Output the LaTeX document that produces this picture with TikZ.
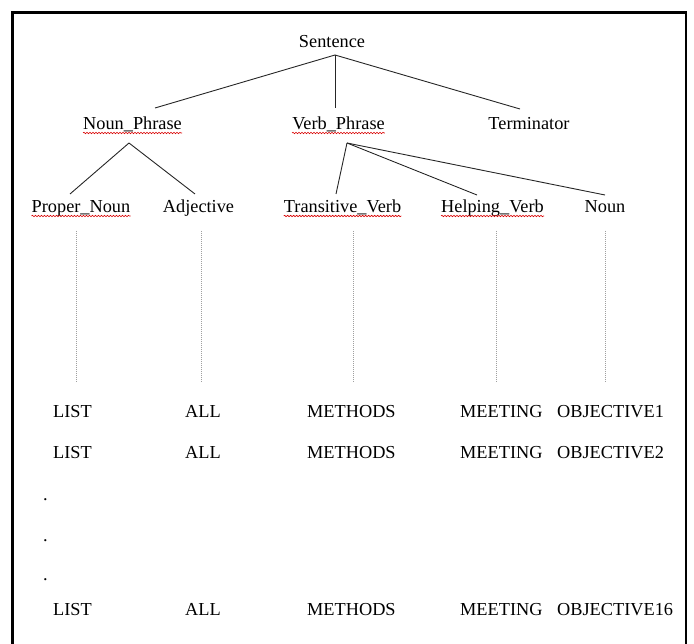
\documentclass[tikz,border=0pt]{standalone}
\usepackage{fontspec}
\setmainfont{Liberation Serif}
\usetikzlibrary{decorations.pathmorphing}
\begin{document}
\begin{tikzpicture}[x=1pt,y=-1pt,
  lbl/.style={inner sep=0pt, anchor=base, font=\fontsize{18.3}{22}\selectfont},
  word/.style={inner sep=0pt, anchor=base west, font=\fontsize{18.3}{22}\selectfont},
  edge/.style={line width=0.9pt, black!85},
  leader/.style={gray!75, line width=1pt, dash pattern=on 1pt off 1pt},
  squiggle/.style={red!85!black, line width=0.6pt, decorate,
    decoration={snake, amplitude=0.7pt, segment length=3pt}},
  frame/.style={line width=2.2pt}]
\useasboundingbox (0,0) rectangle (694,644);
\draw[frame] (12.5,644) -- (12.5,12.5) -- (686,12.5) -- (686,644);

% grammar tree
\node[lbl] (s)   at (332,48)    {Sentence};
\node[lbl] (np)  at (132.5,130) {Noun\_Phrase};
\node[lbl] (vp)  at (338.5,130) {Verb\_Phrase};
\node[lbl] (tm)  at (529,130)   {Terminator};
\node[lbl] (pn)  at (81,213)    {Proper\_Noun};
\node[lbl] (adj) at (198.5,213) {Adjective};
\node[lbl] (tv)  at (342.5,213) {Transitive\_Verb};
\node[lbl] (hv)  at (492.5,213) {Helping\_Verb};
\node[lbl] (nn)  at (605,213)   {Noun};

% spelling marks under the compound names
\foreach \n in {np,vp,pn,tv,hv}
  \draw[squiggle] ([yshift=-3pt]\n.base west) -- ([yshift=-3pt]\n.base east);

% branches
\draw[edge] ([xshift=3pt,yshift=-7pt]s.base) -- ([xshift=22.5pt,yshift=22pt]np.base);
\draw[edge] ([xshift=3pt,yshift=-7pt]s.base) -- ([xshift=-3.5pt,yshift=22pt]vp.base);
\draw[edge] ([xshift=3pt,yshift=-7pt]s.base) -- ([xshift=-9pt,yshift=21pt]tm.base);
\draw[edge] ([xshift=-3.5pt,yshift=-13pt]np.base) -- ([xshift=-11pt,yshift=19pt]pn.base);
\draw[edge] ([xshift=-3.5pt,yshift=-13pt]np.base) -- ([xshift=-3.5pt,yshift=19pt]adj.base);
\draw[edge] ([xshift=8.5pt,yshift=-13pt]vp.base) -- ([xshift=-6.5pt,yshift=19pt]tv.base);
\draw[edge] ([xshift=8.5pt,yshift=-13pt]vp.base) -- ([xshift=-15.5pt,yshift=18pt]hv.base);
\draw[edge] ([xshift=8.5pt,yshift=-13pt]vp.base) -- ([yshift=18pt]nn.base);

% word rows
\node[word] (l1) at (53,418)  {LIST};
\node[word] (a1) at (185,418) {ALL};
\node[word] (m1) at (307,418) {METHODS};
\node[word] (g1) at (460,418) {MEETING};
\node[word] (o1) at (557,418) {OBJECTIVE1};
\node[word] (l2) at (53,458)  {LIST};
\node[word] (a2) at (185,458) {ALL};
\node[word] (m2) at (307,458) {METHODS};
\node[word] (g2) at (460,458) {MEETING};
\node[word] (o2) at (557,458) {OBJECTIVE2};
\node[word] (d1) at (43,500.5) {.};
\node[word] (d2) at (43,541.5) {.};
\node[word] (d3) at (43,580.5) {.};
\node[word] (l3) at (53,615)  {LIST};
\node[word] (a3) at (185,615) {ALL};
\node[word] (m3) at (307,615) {METHODS};
\node[word] (g3) at (460,615) {MEETING};
\node[word] (o3) at (557,615) {OBJECTIVE16};

% leaders from categories down to the word rows
\draw[leader] ([xshift=-5pt,yshift=-18pt]pn.base)   -- ([xshift=-5pt,yshift=-170pt]pn.base);
\draw[leader] ([xshift=2.5pt,yshift=-18pt]adj.base) -- ([xshift=2.5pt,yshift=-170pt]adj.base);
\draw[leader] ([xshift=10.5pt,yshift=-18pt]tv.base) -- ([xshift=10.5pt,yshift=-170pt]tv.base);
\draw[leader] ([xshift=3.5pt,yshift=-18pt]hv.base)  -- ([xshift=3.5pt,yshift=-170pt]hv.base);
\draw[leader] ([yshift=-18pt]nn.base)               -- ([yshift=-170pt]nn.base);
\end{tikzpicture}
\end{document}
